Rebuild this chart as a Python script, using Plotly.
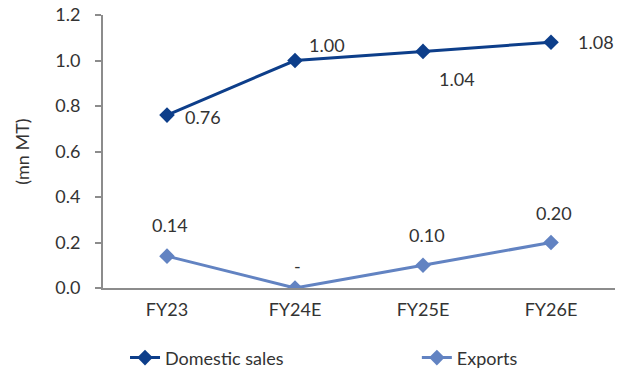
import plotly.graph_objects as go

categories = ["FY23", "FY24E", "FY25E", "FY26E"]
domestic = [0.76, 1.00, 1.04, 1.08]
exports = [0.14, 0.00, 0.10, 0.20]
domestic_labels = ["0.76", "1.00", "1.04", "1.08"]
exports_labels = ["0.14", "-", "0.10", "0.20"]
y_ticks = [0.0, 0.2, 0.4, 0.6, 0.8, 1.0, 1.2]

dark = "#0d3e8a"
light = "#6283c2"
txt = "#333333"
FONT = "Lato"
FS = 18

fig = go.Figure()
fig.add_trace(go.Scatter(x=categories, y=domestic, name="Domestic sales", mode="lines+markers",
                         line=dict(color=dark, width=3),
                         marker=dict(symbol="diamond", size=12, color=dark), legend="legend"))
fig.add_trace(go.Scatter(x=categories, y=exports, name="Exports", mode="lines+markers",
                         line=dict(color=light, width=3),
                         marker=dict(symbol="diamond", size=12, color=light), legend="legend2"))

dom_shift = [(36, -2), (32, 16), (34, -28), (45, 0)]
for c, v, t, (dx, dy) in zip(categories, domestic, domestic_labels, dom_shift):
    fig.add_annotation(x=c, y=v, text=t, showarrow=False, xshift=dx, yshift=dy,
                       font=dict(family=FONT, size=FS, color=txt))
exp_shift = [(3, 31), (2, 22), (4, 30), (3, 30)]
for c, v, t, (dx, dy) in zip(categories, exports, exports_labels, exp_shift):
    fig.add_annotation(x=c, y=v, text=t, showarrow=False, xshift=dx, yshift=dy,
                       font=dict(family=FONT, size=FS, color=txt))

leg_common = dict(orientation="h", xanchor="left", y=-0.256, yanchor="middle",
                  font=dict(family=FONT, size=FS, color=txt), bgcolor="rgba(0,0,0,0)")
fig.update_layout(
    width=640, height=373,
    margin=dict(l=103, r=25, t=15, b=85, autoexpand=False),
    paper_bgcolor="white", plot_bgcolor="white",
    font=dict(family=FONT, size=FS, color=txt),
    showlegend=True,
    legend=dict(x=0.043, **leg_common),
    legend2=dict(x=0.613, **leg_common),
    xaxis=dict(range=[-0.5, 3.5], showline=True, linecolor="#8c8c8c", linewidth=2, showgrid=False,
               ticks="", tickfont=dict(size=FS, color=txt), zeroline=False,
               ticklabelstandoff=4),
    yaxis=dict(range=[0, 1.2], tickvals=y_ticks, tickformat=".1f",
               showline=True, linecolor="#8c8c8c", linewidth=2, showgrid=False,
               ticks="outside", ticklen=6, tickcolor="#8c8c8c", tickwidth=1.5,
               tickfont=dict(size=FS, color=txt), zeroline=False,
               ticklabelstandoff=11,
               title=dict(text="(mn MT)", font=dict(size=FS, color=txt), standoff=21)),
)

fig.write_html("out.html")
